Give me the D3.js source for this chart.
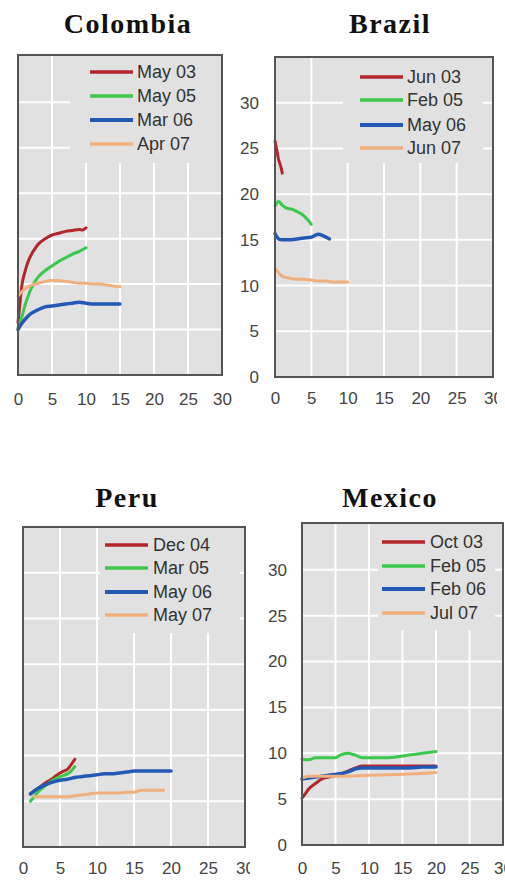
<!DOCTYPE html>
<html>
<head>
<meta charset="utf-8">
<script src="https://cdn.jsdelivr.net/npm/d3@7"></script>
<style>
  html, body { margin: 0; padding: 0; background: #ffffff; }
  svg { display: block; }
</style>
</head>
<body>
<svg id="chart" width="505" height="880"></svg>
<script>
// Shared axis ticks (months horizon on x, level on y)
const xTicks = [0, 5, 10, 15, 20, 25, 30];
const yTicks = [0, 5, 10, 15, 20, 25, 30];

// Country titles
const countries = ["Colombia", "Brazil", "Peru", "Mexico"];

// Legend labels per country (red, green, blue, orange)
const colombiaLabels = ["May 03", "May 05", "Mar 06", "Apr 07"];
const brazilLabels   = ["Jun 03", "Feb 05", "May 06", "Jun 07"];
const peruLabels     = ["Dec 04", "Mar 05", "May 06", "May 07"];
const mexicoLabels   = ["Oct 03", "Feb 05", "Feb 06", "Jul 07"];

// Colombia curves [x, y]
const colombiaMay03 = [[0,5.8],[0.3,8.0],[0.6,10.0],[1,11.3],[1.5,12.5],[2,13.3],[2.5,13.9],[3,14.4],[4,15.0],[5,15.4],[6,15.6],[7,15.8],[8,15.9],[9,16.0],[9.5,15.95],[10,16.2]];
const colombiaMay05 = [[0,5.2],[0.5,6.2],[1,7.6],[1.5,8.7],[2,9.6],[2.5,10.3],[3,10.8],[4,11.5],[5,12.0],[6,12.5],[7,12.9],[8,13.3],[9,13.6],[10,14.0]];
const colombiaMar06 = [[0,5.0],[0.5,5.6],[1,6.1],[1.5,6.5],[2,6.8],[3,7.2],[4,7.5],[5,7.6],[6,7.7],[7,7.8],[8,7.9],[9,8.0],[10,7.9],[11,7.8],[12,7.8],[13,7.8],[14,7.8],[15,7.8]];
const colombiaApr07 = [[0,8.7],[0.5,9.1],[1,9.5],[1.5,9.7],[2,9.9],[3,10.1],[4,10.3],[5,10.4],[6,10.4],[7,10.3],[8,10.2],[9,10.1],[10,10.1],[11,10.0],[12,10.0],[13,9.9],[14,9.8],[15,9.7]];

// Brazil curves
const brazilJun03 = [[0,25.8],[0.15,25.2],[0.3,24.6],[0.45,23.9],[0.6,23.5],[0.8,23.0],[1,22.3]];
const brazilFeb05 = [[0,18.7],[0.5,19.2],[1,18.8],[1.5,18.5],[2,18.4],[2.5,18.3],[3,18.1],[3.5,17.9],[4,17.6],[4.5,17.2],[5,16.7]];
const brazilMay06 = [[0,15.7],[0.5,15.1],[1,15.0],[2,15.0],[3,15.1],[4,15.2],[5,15.3],[5.5,15.5],[6,15.6],[6.5,15.5],[7,15.3],[7.5,15.1]];
const brazilJun07 = [[0,11.9],[0.5,11.4],[1,11.0],[1.5,10.9],[2,10.8],[3,10.7],[4,10.7],[5,10.6],[6,10.5],[7,10.5],[8,10.4],[9,10.4],[10,10.4]];

// Peru curves
const peruDec04 = [[1,5.8],[2,6.4],[3,7.0],[4,7.5],[5,8.1],[5.5,8.3],[6,8.5],[6.5,9.0],[7,9.6]];
const peruMar05 = [[1,5.0],[1.5,5.5],[2,6.0],[3,6.7],[4,7.3],[5,7.7],[6,8.0],[6.5,8.3],[7,8.8]];
const peruMay06 = [[1,5.8],[2,6.4],[3,6.8],[4,7.1],[5,7.3],[6,7.4],[7,7.6],[8,7.7],[9,7.8],[10,7.9],[11,8.0],[12,8.0],[13,8.1],[14,8.2],[15,8.3],[16,8.3],[17,8.3],[18,8.3],[19,8.3],[20,8.3]];
const peruMay07 = [[1.5,5.5],[3,5.5],[4,5.5],[5,5.5],[6,5.5],[7,5.6],[8,5.7],[9,5.8],[10,5.9],[11,5.9],[12,5.9],[13,5.9],[14,6.0],[15,6.0],[16,6.2],[17,6.2],[18,6.2],[19,6.2]];

// Mexico curves
const mexicoOct03 = [[0,5.1],[0.5,5.6],[1,6.1],[2,6.7],[3,7.2],[4,7.4],[5,7.6],[6,7.8],[7,8.1],[8,8.4],[9,8.6],[10,8.6],[12,8.6],[14,8.6],[16,8.6],[18,8.6],[20,8.6]];
const mexicoFeb05 = [[0,9.4],[0.5,9.3],[1,9.3],[2,9.5],[3,9.5],[4,9.5],[5,9.5],[5.5,9.7],[6,9.9],[7,10.0],[7.5,9.9],[8,9.8],[8.5,9.6],[9,9.5],[10,9.5],[12,9.5],[14,9.6],[16,9.8],[18,10.0],[20,10.2]];
const mexicoFeb06 = [[0,7.2],[2,7.4],[4,7.6],[5,7.7],[6,7.8],[7,8.0],[8,8.3],[9,8.4],[10,8.4],[12,8.4],[14,8.4],[16,8.4],[18,8.5],[20,8.5]];
const mexicoJul07 = [[0,7.3],[1,7.5],[3,7.5],[5,7.5],[10,7.6],[15,7.7],[20,7.9]];

// Series styling, in legend order
const seriesColors = ["#b3262b", "#3cc84a", "#2359b5", "#efb07e"];
const seriesWidths = [3, 3, 3.5, 3];

// Panel frames: plot box, legend block, label placement
const panels = [
  { title: countries[0], labels: colombiaLabels, series: [colombiaMay03, colombiaMay05, colombiaMar06, colombiaApr07],
    left: 18, right: 222, top: 55, bottom: 375, yMax: 35.2,
    titleX: 128, titleY: 33, xLabelY: 405, yLabels: false, clipRight: 250,
    legend: { x0: 70, x1: 222, y1: 163, lineX: 90, textX: 137, rows: [72, 96, 120, 144] } },
  { title: countries[1], labels: brazilLabels, series: [brazilJun03, brazilFeb05, brazilMay06, brazilJun07],
    left: 275, right: 493, top: 57, bottom: 377, yMax: 35.0,
    titleX: 390, titleY: 33, xLabelY: 404, yLabels: true, yLabelX: 259, clipLeft: 225, clipRight: 497,
    legend: { x0: 343, x1: 483, y1: 163, lineX: 360, textX: 407, rows: [77, 100, 125, 148] } },
  { title: countries[2], labels: peruLabels, series: [peruDec04, peruMar05, peruMay06, peruMay07],
    left: 23, right: 245, top: 527, bottom: 847, yMax: 35.0,
    titleX: 127, titleY: 507, xLabelY: 874, yLabels: false, clipRight: 250,
    legend: { x0: 100, x1: 240, y1: 633, lineX: 105, textX: 153, rows: [545, 568, 592, 615] } },
  { title: countries[3], labels: mexicoLabels, series: [mexicoOct03, mexicoFeb05, mexicoFeb06, mexicoJul07],
    left: 302, right: 503, top: 523, bottom: 845, yMax: 35.1,
    titleX: 390, titleY: 507, xLabelY: 874, yLabels: true, yLabelX: 287, clipLeft: 250, clipRight: 505,
    legend: { x0: 378, x1: 495, y1: 630, lineX: 382, textX: 430, rows: [542, 566, 589, 613] } }
];

const svg = d3.select("#chart");
const defs = svg.append("defs");

panels.forEach((p, i) => {
  const clipId = "panel-clip-" + i;
  defs.append("clipPath").attr("id", clipId)
    .append("rect")
    .attr("x", p.clipLeft || 0).attr("y", 0)
    .attr("width", (p.clipRight || 505) - (p.clipLeft || 0)).attr("height", 880);

  const g = svg.append("g").attr("clip-path", `url(#${clipId})`);

  const x = d3.scaleLinear().domain([0, 30]).range([p.left, p.right]);
  const y = d3.scaleLinear().domain([0, p.yMax]).range([p.bottom, p.top]);

  // Title
  g.append("text")
    .attr("x", p.titleX).attr("y", p.titleY)
    .attr("text-anchor", "middle")
    .attr("font-family", "'Liberation Serif', 'Times New Roman', serif")
    .attr("font-weight", "bold")
    .attr("font-size", 28)
    .attr("letter-spacing", 1.5)
    .attr("fill", "#111")
    .text(p.title);

  // Plot background
  g.append("rect")
    .attr("x", p.left).attr("y", p.top)
    .attr("width", p.right - p.left).attr("height", p.bottom - p.top)
    .attr("fill", "#e1e1e1");

  // Grid
  const grid = g.append("g").attr("stroke", "#ffffff").attr("stroke-width", 2);
  grid.selectAll("line.h").data(yTicks.filter(t => t > 0)).join("line")
    .attr("class", "h")
    .attr("x1", p.left).attr("x2", p.right)
    .attr("y1", d => y(d)).attr("y2", d => y(d));
  grid.selectAll("line.v").data(xTicks.filter(t => t > 0 && t < 30)).join("line")
    .attr("class", "v")
    .attr("x1", d => x(d)).attr("x2", d => x(d))
    .attr("y1", p.top).attr("y2", p.bottom);

  // Legend block sits over the grid
  g.append("rect")
    .attr("x", p.legend.x0).attr("y", p.top + 1)
    .attr("width", p.legend.x1 - p.legend.x0).attr("height", p.legend.y1 - p.top - 1)
    .attr("fill", "#e1e1e1");

  // Series
  const line = d3.line()
    .x(d => x(d[0])).y(d => y(d[1]))
    .curve(d3.curveMonotoneX);
  g.append("g").selectAll("path").data(p.series).join("path")
    .attr("d", line)
    .attr("fill", "none")
    .attr("stroke", (d, k) => seriesColors[k])
    .attr("stroke-width", (d, k) => seriesWidths[k])
    .attr("stroke-linejoin", "round")
    .attr("stroke-linecap", "round");

  // Frame
  g.append("rect")
    .attr("x", p.left).attr("y", p.top)
    .attr("width", p.right - p.left).attr("height", p.bottom - p.top)
    .attr("fill", "none")
    .attr("stroke", "#555")
    .attr("stroke-width", 2);

  // Legend entries
  const leg = g.append("g");
  p.labels.forEach((lab, k) => {
    const cy = p.legend.rows[k];
    leg.append("line")
      .attr("x1", p.legend.lineX).attr("x2", p.legend.lineX + 43)
      .attr("y1", cy).attr("y2", cy)
      .attr("stroke", seriesColors[k])
      .attr("stroke-width", seriesWidths[k] + 0.5);
    leg.append("text")
      .attr("x", p.legend.textX).attr("y", cy + 6)
      .attr("font-family", "'Liberation Sans', Arial, sans-serif")
      .attr("font-size", 18)
      .attr("fill", "#333")
      .text(lab);
  });

  // X axis labels
  const xAxis = d3.axisBottom(x).tickValues(xTicks).tickSize(0).tickPadding(0);
  const xa = g.append("g")
    .attr("transform", `translate(0,${p.xLabelY - 12})`)
    .call(xAxis);
  xa.select(".domain").remove();
  xa.selectAll("text")
    .attr("font-family", "'Liberation Sans', Arial, sans-serif")
    .attr("font-size", 17)
    .attr("fill", "#444");

  // Y axis labels
  if (p.yLabels) {
    const yAxis = d3.axisLeft(y).tickValues(yTicks).tickSize(0).tickPadding(0);
    const ya = g.append("g")
      .attr("transform", `translate(${p.yLabelX},0)`)
      .call(yAxis);
    ya.select(".domain").remove();
    ya.selectAll("text")
      .attr("font-family", "'Liberation Sans', Arial, sans-serif")
      .attr("font-size", 17)
      .attr("fill", "#444");
  }
});
</script>
</body>
</html>
